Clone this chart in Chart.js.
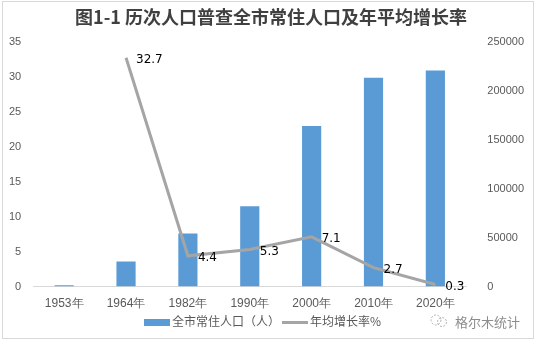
<!DOCTYPE html>
<html>
<head>
<meta charset="utf-8">
<script src="https://cdn.jsdelivr.net/npm/chart.js@4/dist/chart.umd.min.js"></script>
<style>
  html, body { margin: 0; padding: 0; background: #fff; }
  #wrap { position: relative; width: 538px; height: 343px; }
  #frame { position: absolute; left: 2px; top: 1px; width: 532px; height: 338px; border: 1px solid #d9d9d9; box-sizing: border-box; pointer-events: none; }
  .leg { position: absolute; top: 313px; font: 12px "Noto Sans CJK SC", sans-serif; color: #595959; line-height: 16px; white-space: nowrap; }
  .sw { display: inline-block; vertical-align: middle; margin-right: 2px; }
  #mark { position: absolute; left: 455px; top: 312px; font: 13px "Noto Sans CJK SC", sans-serif; color: #8c8c8c; }
  #icon { position: absolute; left: 430px; top: 314px; }
</style>
</head>
<body>
<div id="wrap">
  <canvas id="c" width="538" height="343"></canvas>
  <div id="frame"></div>
  <div class="leg" style="left:144px"><span class="sw" style="width:26px;height:7px;background:#5b9bd5"></span>全市常住人口（人）</div>
  <div class="leg" style="left:282px"><span class="sw" style="width:26px;height:3px;background:#a5a5a5"></span>年均增长率%</div>
  <svg id="icon" width="18" height="14"><circle cx="6" cy="6" r="5" fill="none" stroke="#b0b0b0" stroke-dasharray="2 1.5"/><circle cx="12" cy="8" r="4.5" fill="none" stroke="#b0b0b0" stroke-dasharray="2 1.5"/></svg>
  <div id="mark">格尔木统计</div>
</div>
<script>
const years = ['1953年', '1964年', '1982年', '1990年', '2000年', '2010年', '2020年'];
const population = [1500, 25600, 54300, 82000, 164000, 213000, 220500];
const growthRate = [null, 32.7, 4.4, 5.3, 7.1, 2.7, 0.3];
const leftTicks = [0, 5, 10, 15, 20, 25, 30, 35];

const pointLabels = {
  id: 'pointLabels',
  afterDatasetsDraw(chart) {
    const ctx = chart.ctx;
    const meta = chart.getDatasetMeta(1);
    ctx.save();
    ctx.font = '12px "DejaVu Sans", sans-serif';
    ctx.fillStyle = '#000';
    ctx.textBaseline = 'middle';
    meta.data.forEach((pt, i) => {
      if (growthRate[i] === null) return;
      ctx.fillText(growthRate[i].toFixed(1), pt.x + 10, pt.y + 2);
    });
    ctx.restore();
  }
};

new Chart(document.getElementById('c'), {
  data: {
    labels: years,
    datasets: [
      {
        type: 'bar',
        label: '全市常住人口（人）',
        data: population,
        yAxisID: 'y1',
        backgroundColor: '#5b9bd5',
        barPercentage: 0.31,
        categoryPercentage: 1,
        order: 2
      },
      {
        type: 'line',
        label: '年均增长率%',
        data: growthRate,
        yAxisID: 'y',
        borderColor: '#a5a5a5',
        backgroundColor: '#a5a5a5',
        borderWidth: 3,
        pointRadius: 0,
        tension: 0,
        order: 1
      }
    ]
  },
  options: {
    responsive: false,
    animation: false,
    layout: { padding: { left: 5, right: 1, top: 0, bottom: 22 } },
    plugins: {
      title: {
        display: true,
        text: '图1-1 历次人口普查全市常住人口及年平均增长率',
        color: '#404040',
        font: { size: 18, weight: 'bold', family: '"Noto Sans CJK SC", sans-serif' },
        padding: { top: 6, bottom: 14 }
      },
      legend: { display: false },
      tooltip: { enabled: false }
    },
    scales: {
      x: {
        grid: { display: false, drawTicks: false },
        border: { color: '#d9d9d9' },
        ticks: { color: '#595959', font: { size: 12 }, padding: 10 }
      },
      y: {
        position: 'left',
        min: 0, max: 35,
        afterBuildTicks(axis) { axis.ticks = leftTicks.map(v => ({ value: v })); },
        grid: { display: false },
        border: { display: false },
        ticks: { color: '#595959', font: { size: 11 }, padding: 4 }
      },
      y1: {
        position: 'right',
        min: 0, max: 250000,
        grid: { display: false },
        border: { display: false },
        ticks: { stepSize: 50000, color: '#595959', font: { size: 11 }, padding: 13, callback: v => String(v) }
      }
    }
  },
  plugins: [pointLabels]
});
</script>
</body>
</html>
